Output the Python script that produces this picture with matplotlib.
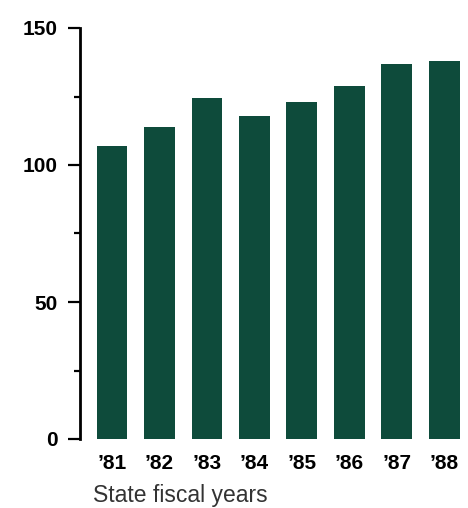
import numpy as np
import matplotlib.pyplot as plt
from matplotlib.ticker import MultipleLocator

plt.rcParams['font.family'] = ['Liberation Sans', 'DejaVu Sans']

years = ["\u201981", "\u201982", "\u201983", "\u201984", "\u201985", "\u201986", "\u201987", "\u201988"]
values = [107, 114, 124.5, 118, 123, 129, 137, 138]

bar_color = '#0e4b3b'

fig = plt.figure(figsize=(4.68, 5.08), dpi=100)
ax = fig.add_axes([80 / 468, 69 / 508, 386 / 468, 411 / 508])

index = np.arange(len(years))
ax.bar(index, values, width=0.65, color=bar_color)

ax.set_xlim(-0.675, 7.46)
ax.set_ylim(0, 150)

ax.set_yticks([0, 50, 100, 150])
ax.yaxis.set_minor_locator(MultipleLocator(25))
ax.set_xticks(index)
ax.set_xticklabels(years)

for s in ['top', 'right', 'bottom']:
    ax.spines[s].set_visible(False)
ax.spines['left'].set_linewidth(2)

ax.tick_params(axis='y', which='major', length=9, width=1.6, pad=7,
               labelsize=15)
ax.tick_params(axis='y', which='minor', length=4.5, width=1.6)
ax.tick_params(axis='x', length=0, pad=11, labelsize=15)
for lbl in ax.get_yticklabels() + ax.get_xticklabels():
    lbl.set_fontweight('bold')

fig.text(93 / 468, 6 / 508, 'State fiscal years', fontsize=16.5,
         ha='left', va='baseline', color='#333333')

fig.savefig('out.png', dpi=100)
